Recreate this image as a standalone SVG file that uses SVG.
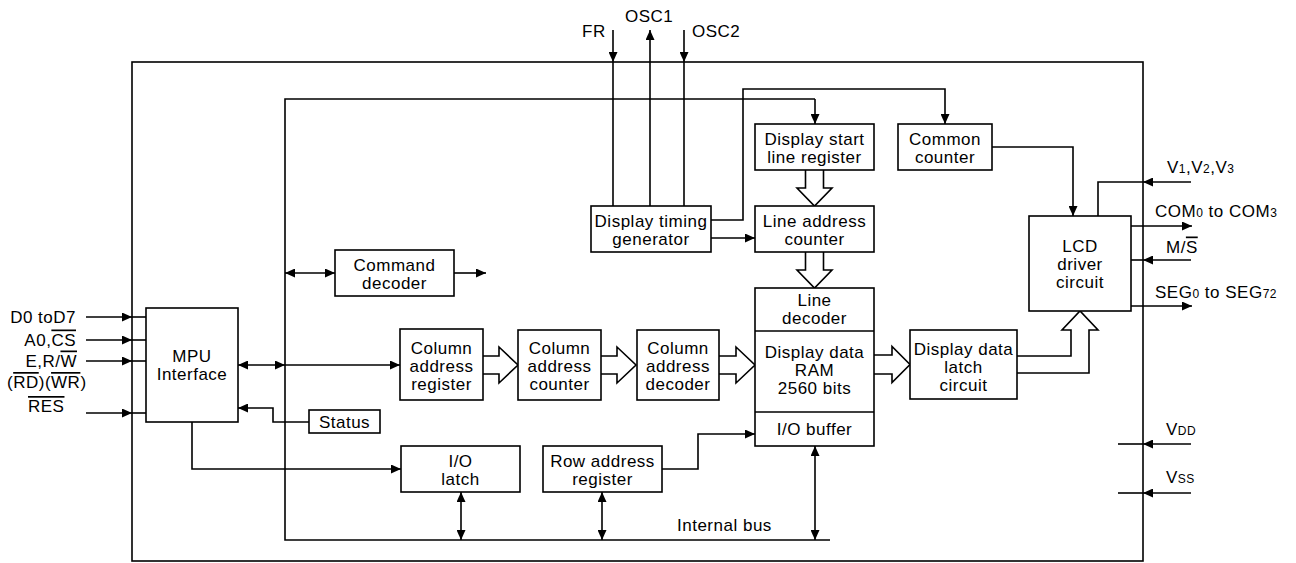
<svg xmlns="http://www.w3.org/2000/svg" width="1296" height="563" viewBox="0 0 1296 563">
<defs>
<style>
.b{fill:#fff;stroke:#000;stroke-width:1.6}
.l{fill:none;stroke:#000;stroke-width:1.6}
.h{fill:#fff;stroke:#000;stroke-width:1.6;stroke-linejoin:miter}
text{font-family:"Liberation Sans",Arial,sans-serif;font-size:17px;letter-spacing:0.5px;fill:#000}
.c{text-anchor:middle}
.s{font-size:12px}
.o{text-decoration:overline}
</style>
<marker id="a" viewBox="0 0 10 9" refX="10" refY="4.5" markerWidth="10" markerHeight="9" markerUnits="userSpaceOnUse" orient="auto-start-reverse"><path d="M0,0L10,4.5L0,9z" fill="#000"/></marker>
</defs>
<rect width="1296" height="563" fill="#fff"/>
<rect id="chip" class="l" x="132" y="62" width="1011" height="499"/>

<g id="connectors">
<!-- internal bus -->
<path class="l" d="M815,99 H285 V540 H830"/>
<path class="l" d="M815,99 V124" marker-end="url(#a)"/>
<!-- top pins -->
<path class="l" d="M613,30 V62" marker-end="url(#a)"/>
<path class="l" d="M613,62 V206"/>
<path class="l" d="M650,206 V30" marker-end="url(#a)"/>
<path class="l" d="M684,30 V62" marker-end="url(#a)"/>
<path class="l" d="M684,62 V206"/>
<!-- DTG outputs -->
<path class="l" d="M711,220 H743 V89 H945 V124" marker-end="url(#a)"/>
<path class="l" d="M711,238 H755" marker-end="url(#a)"/>
<!-- common counter to LCD -->
<path class="l" d="M992,147 H1073 V216" marker-end="url(#a)"/>
<!-- right pins -->
<path class="l" d="M1191,182 H1143" marker-end="url(#a)"/>
<path class="l" d="M1143,182 H1098 V216"/>
<path class="l" d="M1131,226 H1192" marker-end="url(#a)"/>
<path class="l" d="M1191,260 H1143" marker-end="url(#a)"/>
<path class="l" d="M1143,260 H1131"/>
<path class="l" d="M1131,306 H1192" marker-end="url(#a)"/>
<path class="l" d="M1191,444 H1143" marker-end="url(#a)"/>
<path class="l" d="M1143,444 H1118"/>
<path class="l" d="M1191,493 H1143" marker-end="url(#a)"/>
<path class="l" d="M1143,493 H1118"/>
<!-- left pins -->
<path class="l" d="M86,317 H132" marker-end="url(#a)"/>
<path class="l" d="M132,317 H146"/>
<path class="l" d="M86,340 H132" marker-end="url(#a)"/>
<path class="l" d="M132,340 H146"/>
<path class="l" d="M86,361 H132" marker-end="url(#a)"/>
<path class="l" d="M132,361 H146"/>
<path class="l" d="M86,413 H132" marker-end="url(#a)"/>
<path class="l" d="M132,413 H146"/>
<!-- MPU links -->
<path class="l" d="M238,365 H285" marker-start="url(#a)" marker-end="url(#a)"/>
<path class="l" d="M285,365 H400" marker-end="url(#a)"/>
<path class="l" d="M309,422 H273 V408 H238" marker-end="url(#a)"/>
<path class="l" d="M192,422 V469 H401" marker-end="url(#a)"/>
<!-- command decoder -->
<path class="l" d="M285,273 H335" marker-start="url(#a)" marker-end="url(#a)"/>
<path class="l" d="M454,273 H486" marker-end="url(#a)"/>
<!-- row address to I/O buffer -->
<path class="l" d="M662,469 H698 V434 H755" marker-end="url(#a)"/>
<!-- bus double arrows -->
<path class="l" d="M461,492 V540" marker-start="url(#a)" marker-end="url(#a)"/>
<path class="l" d="M602,492 V540" marker-start="url(#a)" marker-end="url(#a)"/>
<path class="l" d="M815,446 V540" marker-start="url(#a)" marker-end="url(#a)"/>
<!-- hollow arrows -->
<path class="h" d="M483,356 H499 V347 L518,365 L499,383 V374 H483"/>
<path class="h" d="M601,356 H617 V347 L636,365 L617,383 V374 H601"/>
<path class="h" d="M719,356 H736 V347 L755,365 L736,383 V374 H719"/>
<path class="h" d="M874,355 H892 V346.5 L910,364.5 L892,382.5 V374 H874"/>
<path class="h" d="M805.5,170 V188 H797 L814.5,206 L832,188 H823.5 V170"/>
<path class="h" d="M805.5,252 V270 H797 L814.5,288 L832,270 H823.5 V252"/>
<path class="h" d="M1017,356 H1071 V330 H1062 L1080,311 L1098,330 H1089 V373 H1017"/>
</g>

<g id="mpu"><rect class="b" x="146" y="308" width="92" height="114"/><text class="c" x="192" y="362">MPU</text><text class="c" x="192" y="380">Interface</text></g>
<g id="status"><rect class="b" x="309" y="410" width="71" height="23"/><text class="c" x="344.5" y="428">Status</text></g>
<g id="command-decoder"><rect class="b" x="335" y="250" width="119" height="46"/><text class="c" x="394.5" y="270.5">Command</text><text class="c" x="394.5" y="289">decoder</text></g>
<g id="col-addr-register"><rect class="b" x="400" y="329" width="83" height="71"/><text class="c" x="441.5" y="354">Column</text><text class="c" x="441.5" y="372">address</text><text class="c" x="441.5" y="390">register</text></g>
<g id="col-addr-counter"><rect class="b" x="518" y="330" width="83" height="70"/><text class="c" x="559.5" y="354">Column</text><text class="c" x="559.5" y="372">address</text><text class="c" x="559.5" y="390">counter</text></g>
<g id="col-addr-decoder"><rect class="b" x="637" y="330" width="82" height="70"/><text class="c" x="678" y="354">Column</text><text class="c" x="678" y="372">address</text><text class="c" x="678" y="390">decoder</text></g>
<g id="timing-generator"><rect class="b" x="591" y="206" width="120" height="46"/><text class="c" x="651" y="226.5">Display timing</text><text class="c" x="651" y="245">generator</text></g>
<g id="start-line-register"><rect class="b" x="755" y="124" width="119" height="46"/><text class="c" x="814.5" y="144.5">Display start</text><text class="c" x="814.5" y="163">line register</text></g>
<g id="line-addr-counter"><rect class="b" x="755" y="206" width="119" height="46"/><text class="c" x="814.5" y="226.5">Line address</text><text class="c" x="814.5" y="245">counter</text></g>
<g id="common-counter"><rect class="b" x="898" y="124" width="94" height="46"/><text class="c" x="945" y="144.5">Common</text><text class="c" x="945" y="163">counter</text></g>
<g id="ram"><rect class="b" x="755" y="288" width="119" height="158"/><path class="l" d="M755,331 H874 M755,412 H874"/>
<text class="c" x="814.5" y="306">Line</text><text class="c" x="814.5" y="324">decoder</text>
<text class="c" x="814.5" y="358">Display data</text><text class="c" x="814.5" y="376">RAM</text><text class="c" x="814.5" y="394">2560 bits</text>
<text class="c" x="814.5" y="435">I/O buffer</text></g>
<g id="data-latch"><rect class="b" x="910" y="330" width="107" height="69"/><text class="c" x="963.5" y="355">Display data</text><text class="c" x="963.5" y="373">latch</text><text class="c" x="963.5" y="391">circuit</text></g>
<g id="lcd-driver"><rect class="b" x="1029" y="216" width="102" height="95"/><text class="c" x="1080" y="252">LCD</text><text class="c" x="1080" y="270">driver</text><text class="c" x="1080" y="288">circuit</text></g>
<g id="io-latch"><rect class="b" x="401" y="446" width="119" height="46"/><text class="c" x="460.5" y="466.5">I/O</text><text class="c" x="460.5" y="485">latch</text></g>
<g id="row-addr-register"><rect class="b" x="543" y="446" width="119" height="46"/><text class="c" x="602.5" y="466.5">Row address</text><text class="c" x="602.5" y="485">register</text></g>

<g id="labels">
<text x="582" y="37">FR</text>
<text x="625" y="22">OSC1</text>
<text x="692" y="37">OSC2</text>
<text x="677" y="531">Internal bus</text>
<text x="76" y="323" text-anchor="end">D0 toD7</text>
<text x="76" y="345.5" text-anchor="end">A0,<tspan class="o">CS</tspan></text>
<text x="77" y="366.5" text-anchor="end">E,R/<tspan class="o">W</tspan></text>
<text x="7" y="388">(<tspan class="o">RD</tspan>)(<tspan class="o">WR</tspan>)</text>
<text x="28" y="412"><tspan class="o">RES</tspan></text>
<text x="1167" y="173">V<tspan class="s">1</tspan>,V<tspan class="s">2</tspan>,V<tspan class="s">3</tspan></text>
<text x="1155" y="217">COM<tspan class="s">0</tspan> to COM<tspan class="s">3</tspan></text>
<text x="1166" y="252.5">M/<tspan class="o">S</tspan></text>
<text x="1155" y="298">SEG<tspan class="s">0</tspan> to SEG<tspan class="s">72</tspan></text>
<text x="1166" y="435">V<tspan class="s">DD</tspan></text>
<text x="1166" y="483">V<tspan class="s">SS</tspan></text>
</g>
</svg>
